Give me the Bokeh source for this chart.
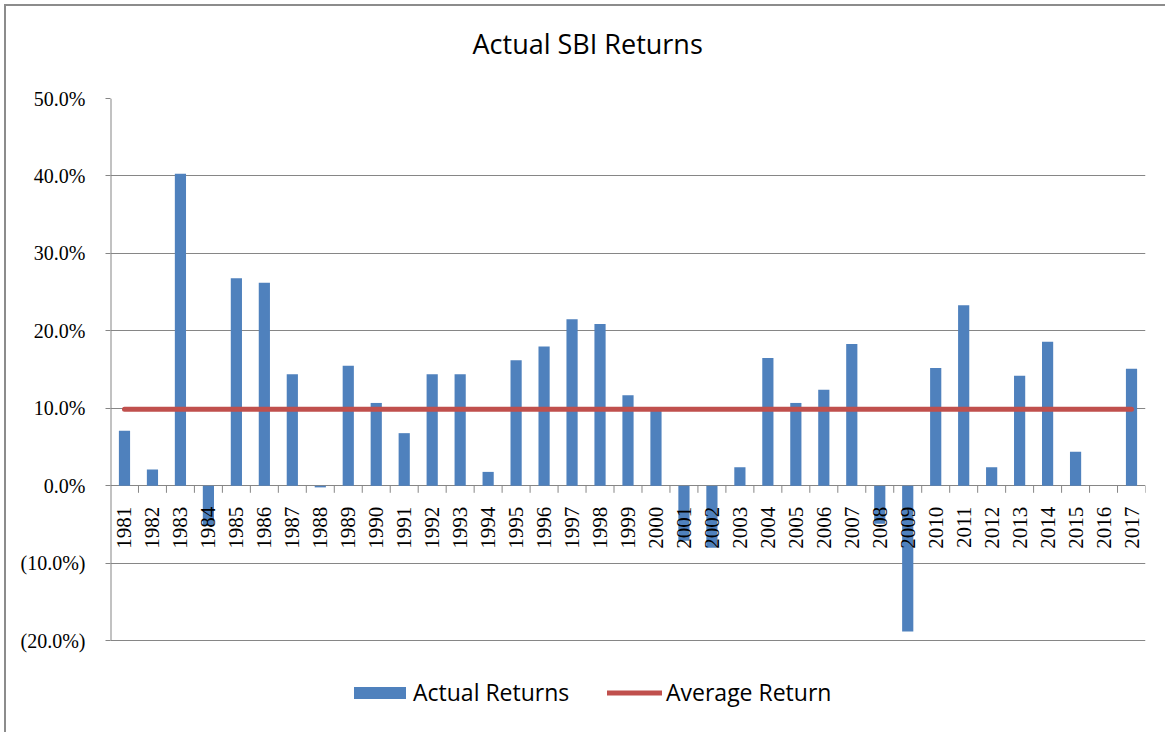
from bokeh.plotting import figure
from bokeh.models import (ColumnDataSource, FixedTicker, CustomJSTickFormatter,
                          Legend, LegendItem, Title)
from bokeh.core.properties import value
from bokeh.embed import file_html
from bokeh.resources import INLINE

years = [str(y) for y in range(1981, 2018)]
returns = [7.1, 2.1, 40.3, -5.2, 26.8, 26.2, 14.4, -0.2, 15.5, 10.7,
           6.8, 14.4, 14.4, 1.8, 16.2, 18.0, 21.5, 20.9, 11.7, 9.8,
           -7.1, -8.0, 2.4, 16.5, 10.7, 12.4, 18.3, -4.9, -18.8, 15.2,
           23.3, 2.4, 14.2, 18.6, 4.4, 0.0, 15.1]
average_return = 9.9
y_ticks = [-20, -10, 0, 10, 20, 30, 40, 50]

xs = list(range(1, len(years) + 1))
src = ColumnDataSource(dict(x=xs, y=returns, year=years,
                            ly=[-2.7] * len(years)))

BLUE = "#4F81BD"
RED = "#C0504D"
GRID = "#868686"
BORDER = "#8c8c8c"

# frame extends below -20% so the legend can live inside it
p = figure(width=1165, height=732, output_backend="svg", toolbar_location=None,
           x_range=(0.5, len(years) + 0.5), y_range=(-30.55, 50),
           min_border_left=110, min_border_right=20, min_border_top=98,
           min_border_bottom=10)
p.border_fill_color = None
p.styles = {
    "background": (f"linear-gradient({BORDER},{BORDER}) 4px 4px / 2px calc(100% - 4px) no-repeat, "
                   f"linear-gradient({BORDER},{BORDER}) 4px 4px / calc(100% - 4px) 2px no-repeat, "
                   "#ffffff")
}
p.outline_line_color = None
p.xaxis.visible = False
p.xgrid.grid_line_color = None

p.yaxis.ticker = FixedTicker(ticks=y_ticks)
p.ygrid.ticker = FixedTicker(ticks=y_ticks)
p.ygrid.grid_line_color = GRID
p.ygrid.grid_line_width = 1
p.yaxis.formatter = CustomJSTickFormatter(code="""
const s = Math.abs(tick).toFixed(1) + "%";
return tick < 0 ? "(" + s + ")" : s;
""")
p.yaxis.axis_line_color = None
p.yaxis.major_tick_line_color = GRID
p.yaxis.major_tick_out = 5
p.yaxis.major_tick_in = 0
p.yaxis.minor_tick_line_color = None
p.yaxis.major_label_text_font = "Liberation Serif"
p.yaxis.major_label_text_font_size = "20px"
p.yaxis.major_label_text_color = "black"
p.yaxis.major_label_standoff = 20

# vertical axis line only from -20% to 50%
p.segment(x0=[0.5], x1=[0.5], y0=[-20], y1=[50], line_color=GRID, line_width=2)

bars = p.vbar(x="x", top="y", width=0.4, source=src, fill_color=BLUE,
              line_color=None)
avg = p.line(x=xs, y=[average_return] * len(xs), line_width=5,
             line_color=RED, line_cap="round")

# category tick marks at boundaries
bx = [i + 0.5 for i in range(1, len(years) + 1)]
p.segment(x0=bx, x1=bx, y0=[0] * len(bx), y1=[-0.9] * len(bx),
          line_color=GRID, line_width=1)

p.text(x="x", y="ly", text="year", source=src, angle=1.5708,
       text_align="right", text_baseline="middle",
       text_font=value("Liberation Serif"), text_font_size="21px",
       text_color="black")

common = dict(orientation="horizontal", label_text_font="Open Sans",
              label_text_font_size="23px", label_text_color="black",
              border_line_color=None, background_fill_alpha=0,
              padding=0, margin=0)
leg1 = Legend(items=[LegendItem(label="Actual Returns", renderers=[bars])],
              location=(237, 14), glyph_width=65, glyph_height=15,
              label_standoff=1, **common)
leg2 = Legend(items=[LegendItem(label="Average Return", renderers=[avg])],
              location=(497, 14), glyph_width=55, glyph_height=15,
              label_standoff=4, **common)
p.add_layout(leg1, "center")
p.add_layout(leg2, "center")

p.add_layout(Title(text=" ", text_font_size="18px"), "above")
p.add_layout(Title(text="Actual SBI Returns", align="left", offset=362,
                   text_font="Open Sans", text_font_size="27px",
                   text_font_style="normal", text_color="black"), "above")

open("out.html", "w").write(file_html(p, INLINE))
